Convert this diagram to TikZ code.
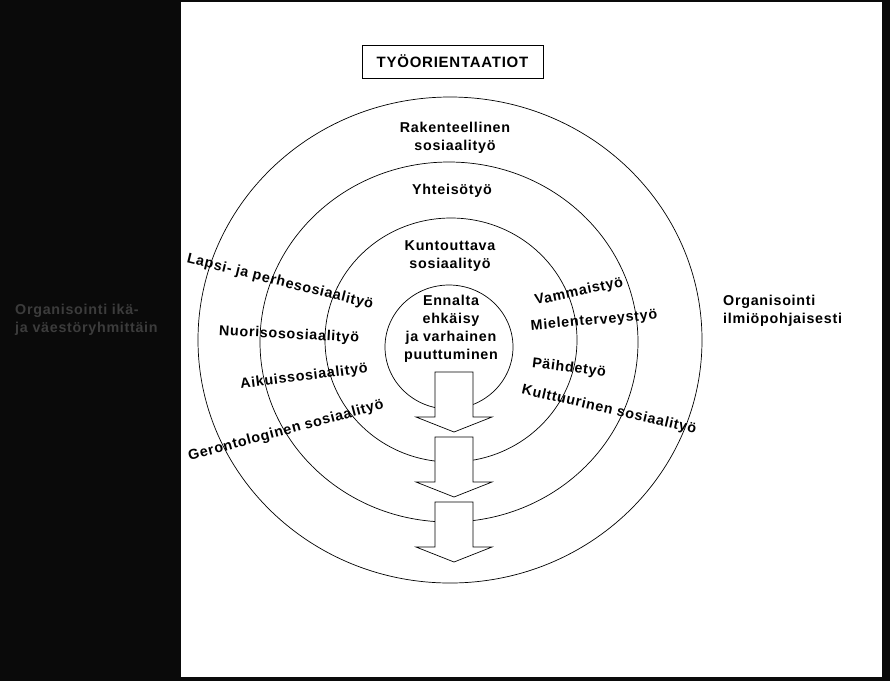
\documentclass[tikz,border=0pt]{standalone}
\usepackage{fontspec}
\setmainfont{Liberation Sans}[LetterSpace=5]
\usepackage{tikz}
\usetikzlibrary{positioning}
\definecolor{darkfill}{RGB}{10, 10, 10}
\definecolor{dimtext}{RGB}{60, 60, 60}

\begin{document}
\begin{tikzpicture}[
    x=1pt, y=-1pt,
    lbl/.style={font=\fontsize{14.3}{18}\selectfont\bfseries, align=center, inner sep=0pt},
    ring/.style={draw=black, line width=0.7pt},
    titlebox/.style={draw=black, line width=0.7pt, minimum width=181pt, minimum height=33pt, font=\fontsize{15}{18}\selectfont\bfseries},
    blockarrow/.style={draw=black, fill=white, line width=0.7pt}
]

    % page: black frame, white sheet
    \fill[darkfill] (0,0) rectangle (890,681);
    \fill[white] (181,2) rectangle (882,677);
    \useasboundingbox (0,0) rectangle (890,681);

    \node[titlebox] (title) at (452.5,61.5) {TYÖORIENTAATIOT};

    % rings
    \draw[ring] (450,340) ellipse [x radius=252, y radius=243];
    \draw[ring] (449,342) ellipse [x radius=189, y radius=180];
    \draw[ring] (451,340) ellipse [x radius=126, y radius=122];
    \draw[ring] (449,347) ellipse [x radius=64, y radius=62];

    % downward arrows
    \foreach \yt in {372,437,502} {
        \draw[blockarrow] (435,\yt) -- (473,\yt) -- (473,\yt+45) -- (492,\yt+45)
            -- (454,\yt+60) -- (416,\yt+45) -- (435,\yt+45) -- cycle;
    }

    \node[lbl] (rakenne) at (455,138) {Rakenteellinen\\sosiaalityö};
    \node[lbl] (yhteiso) at (452,191) {Yhteisötyö};
    \node[lbl] (kuntou) at (450,256) {Kuntouttava\\sosiaalityö};
    \node[lbl] (ennalta) at (451,329) {Ennalta\\ehkäisy\\ja varhainen\\puuttuminen};

    \node[lbl, rotate=-14] (lapsi) at (280,282) {Lapsi- ja perhesosiaalityö};
    \node[lbl, rotate=-3] (nuoriso) at (289,335) {Nuorisososiaalityö};
    \node[lbl, rotate=7] (aikuis) at (304,377) {Aikuissosiaalityö};
    \node[lbl, rotate=15] (geronto) at (286,431) {Gerontologinen sosiaalityö};

    \node[lbl, rotate=12] (vammais) at (579,292) {Vammaistyö};
    \node[lbl, rotate=5] (mieli) at (594,321) {Mielenterveystyö};
    \node[lbl, rotate=-7] (paihde) at (569,368) {Päihdetyö};
    \node[lbl, rotate=-13] (kulttuuri) at (609,410) {Kulttuurinen sosiaalityö};

    \node[lbl, align=left, anchor=west] (ilmio) at (723,311) {Organisointi\\ilmiöpohjaisesti};
    \node[lbl, align=left, anchor=west, text=dimtext] (ikaryhma) at (15,320) {Organisointi ikä-\\ja väestöryhmittäin};

\end{tikzpicture}
\end{document}
